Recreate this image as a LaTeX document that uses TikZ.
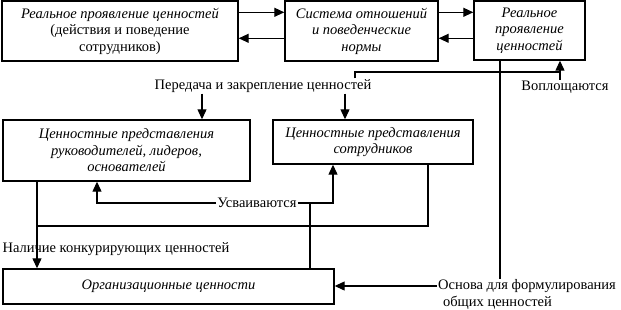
\documentclass[tikz,border=0pt]{standalone}
\usepackage{fontspec}
\setmainfont{Liberation Serif}
\usetikzlibrary{arrows.meta,calc}
\newcommand{\fs}{\fontsize{14.5}{16.5}\selectfont}
\begin{document}
\begin{tikzpicture}[x=1pt,y=-1pt,
  box/.style={draw, line width=1.4pt, inner sep=0pt, align=center, font=\fs\itshape},
  lab/.style={font=\fs, inner sep=1pt},
  conn/.style={line width=1.2pt},
  arr/.style={conn, -{Triangle[length=10pt,width=9pt]}}]
\useasboundingbox (0,0) rectangle (621,310);
% boxes
\node[box, minimum width=236pt, minimum height=60pt] (A) at (120,31)
  {Реальное проявление ценностей\\\upshape(действия и поведение\\\upshape сотрудников)};
\node[box, minimum width=153pt, minimum height=60pt] (B) at (361.5,31)
  {Система отношений\\и поведенческие\\нормы};
\node[box, minimum width=111pt, minimum height=59pt] (C) at (529.5,30.5)
  {Реальное\\проявление\\ценностей};
\node[box, minimum width=247pt, minimum height=61pt] (D) at (126.5,150.5)
  {Ценностные представления\\руководителей, лидеров,\\основателей};
\node[box, minimum width=200pt, minimum height=44pt] (E) at (373,142)
  {Ценностные представления\\сотрудников};
\node[box, minimum width=331pt, minimum height=35pt] (O) at (168.5,286.5)
  {Организационные ценности};
% labels
\node[lab] (P) at (263,86) {Передача и закрепление ценностей};
\node[lab] (V) at (565,87) {Воплощаются};
\node[lab] (U) at (257,203) {Усваиваются};
\node[lab] (N) at (116,249) {Наличие конкурирующих ценностей};
\node[lab, align=left] (Os) at (527,294.5) {Основа для формулирования\\\hspace{5pt}общих ценностей};
% coordinates
\coordinate (k1) at (355,72);
\coordinate (k2) at (560,72);
\coordinate (pd) at (202,0);
\coordinate (pe) at (345,0);
\coordinate (cx) at (500,0);
\coordinate (oy) at (0,286);
\coordinate (ud) at (97,203);
\coordinate (ue) at (333,203);
\coordinate (uv) at (310,203);
\coordinate (r1) at (428,226);
\coordinate (r2) at (37,226);
% connectors
\draw[arr] ($(A.north east)+(0,12)$) -- ($(B.north west)+(0,12)$);
\draw[arr] ($(B.north west)+(0,38)$) -- ($(A.north east)+(0,38)$);
\draw[arr] ($(B.north east)+(0,12)$) -- ($(C.north west)+(0,12)$);
\draw[arr] ($(C.north west)+(0,38)$) -- ($(B.north east)+(0,38)$);
\draw[conn] (P.north -| k1) -- (k1) -- (k2);
\draw[arr] (V.north -| k2) -- (C.south -| k2);
\draw[arr] (P.south -| pd) -- (D.north -| pd);
\draw[arr] (P.south -| pe) -- (E.north -| pe);
\draw[conn] (C.south -| cx) -- (Os.north -| cx);
\draw[arr] (Os.west |- oy) -- (O.east |- oy);
\draw[arr] (U.west) -- (ud) -- (D.south -| ud);
\draw[arr] (U.east) -- (ue) -- (E.south -| ue);
\draw[conn] (uv) -- (O.north -| uv);
\draw[conn] (E.south -| r1) -- (r1) -- (r2);
\draw[arr] (D.south -| r2) -- (O.north -| r2);
\end{tikzpicture}
\end{document}
